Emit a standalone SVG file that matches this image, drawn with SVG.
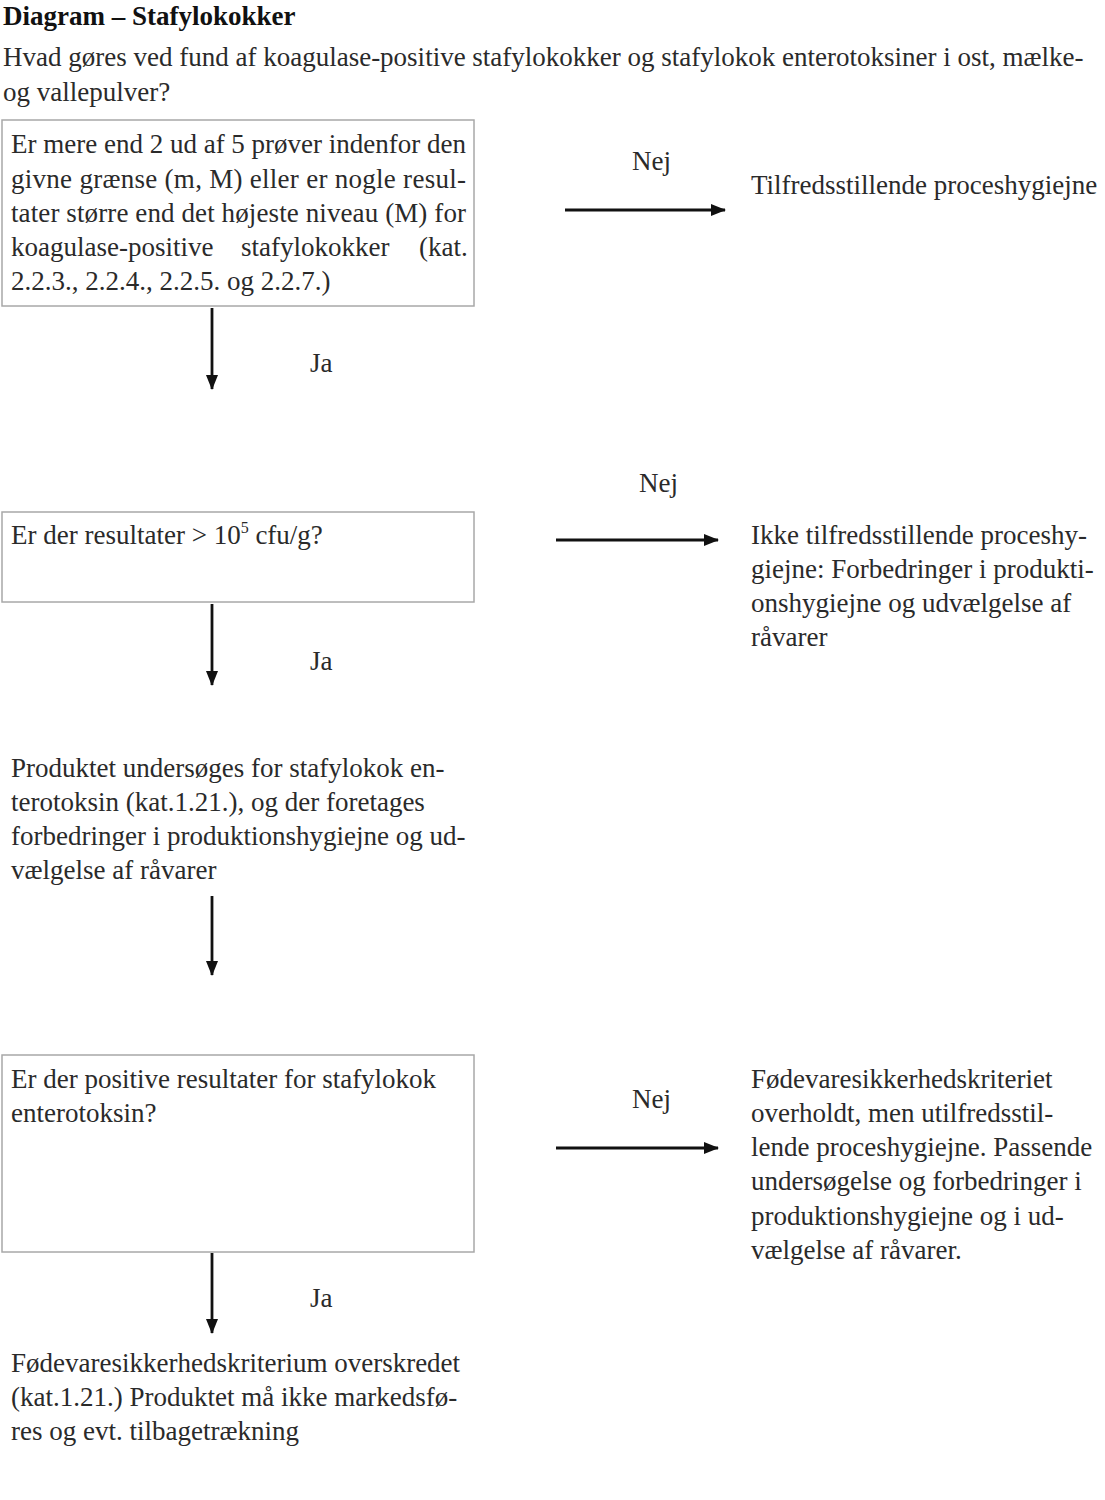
<svg xmlns="http://www.w3.org/2000/svg" width="1105" height="1500" viewBox="0 0 1105 1500">
<style>
text{font-family:"Liberation Serif","Times New Roman",serif;font-size:27px;fill:#2a2a2a}
.t{font-weight:bold;font-size:27px;fill:#111}
.box{fill:#fff;stroke:#a8a8a8;stroke-width:1.5}
.c{stroke:#111;stroke-width:2.8;fill:none}
</style>
<defs>
<marker id="ah" markerUnits="userSpaceOnUse" markerWidth="15" markerHeight="15" viewBox="0 0 15 15" refX="14" refY="7.5" orient="auto">
<path d="M0,1.5 L15,7.5 L0,13.5 Z" fill="#111"/>
</marker>
</defs>
<rect width="1105" height="1500" fill="#fff"/>
<g id="title">
<text class="t" x="3" y="25">Diagram – Stafylokokker</text>
<text x="3" y="66">Hvad gøres ved fund af koagulase-positive stafylokokker og stafylokok enterotoksiner i ost, mælke-</text>
<text x="3" y="101">og vallepulver?</text>
</g>
<g id="q1">
<rect class="box" x="2" y="120" width="472" height="186"/>
<text x="11" y="153" textLength="455" lengthAdjust="spacing">Er mere end 2 ud af 5 prøver indenfor den</text>
<text x="11" y="188" textLength="455" lengthAdjust="spacing">givne grænse (m, M) eller er nogle resul-</text>
<text x="11" y="222" textLength="455" lengthAdjust="spacing">tater større end det højeste niveau (M) for</text>
<text y="256"><tspan x="11">koagulase-positive</tspan><tspan x="241">stafylokokker</tspan><tspan x="419">(kat.</tspan></text>
<text x="11" y="290">2.2.3., 2.2.4., 2.2.5. og 2.2.7.)</text>
</g>
<g id="r1">
<text x="751" y="194">Tilfredsstillende proceshygiejne</text>
</g>
<g id="q2">
<rect class="box" x="2" y="512" width="472" height="90"/>
<text x="11" y="544">Er der resultater &gt; 10<tspan font-size="16" dy="-11">5</tspan><tspan dy="11"> cfu/g?</tspan></text>
</g>
<g id="r2">
<text x="751" y="544">Ikke tilfredsstillende proceshy-</text>
<text x="751" y="578">giejne: Forbedringer i produkti-</text>
<text x="751" y="612">onshygiejne og udvælgelse af</text>
<text x="751" y="646">råvarer</text>
</g>
<g id="s3">
<text x="11" y="777">Produktet undersøges for stafylokok en-</text>
<text x="11" y="811">terotoksin (kat.1.21.), og der foretages</text>
<text x="11" y="845">forbedringer i produktionshygiejne og ud-</text>
<text x="11" y="879">vælgelse af råvarer</text>
</g>
<g id="q4">
<rect class="box" x="2" y="1055" width="472" height="197"/>
<text x="11" y="1088">Er der positive resultater for stafylokok</text>
<text x="11" y="1122">enterotoksin?</text>
</g>
<g id="r4">
<text x="751" y="1088">Fødevaresikkerhedskriteriet</text>
<text x="751" y="1122">overholdt, men utilfredsstil-</text>
<text x="751" y="1156">lende proceshygiejne. Passende</text>
<text x="751" y="1190">undersøgelse og forbedringer i</text>
<text x="751" y="1225">produktionshygiejne og i ud-</text>
<text x="751" y="1259">vælgelse af råvarer.</text>
</g>
<g id="r5">
<text x="11" y="1372">Fødevaresikkerhedskriterium overskredet</text>
<text x="11" y="1406">(kat.1.21.) Produktet må ikke markedsfø-</text>
<text x="11" y="1440">res og evt. tilbagetrækning</text>
</g>
<g id="connectors">
<line class="c" x1="565" y1="210" x2="725" y2="210" marker-end="url(#ah)"/>
<text x="632" y="170">Nej</text>
<line class="c" x1="212" y1="308" x2="212" y2="389" marker-end="url(#ah)"/>
<text x="310" y="372">Ja</text>
<line class="c" x1="556" y1="540" x2="718" y2="540" marker-end="url(#ah)"/>
<text x="639" y="492">Nej</text>
<line class="c" x1="212" y1="604" x2="212" y2="685" marker-end="url(#ah)"/>
<text x="310" y="670">Ja</text>
<line class="c" x1="212" y1="896" x2="212" y2="975" marker-end="url(#ah)"/>
<line class="c" x1="556" y1="1148" x2="718" y2="1148" marker-end="url(#ah)"/>
<text x="632" y="1108">Nej</text>
<line class="c" x1="212" y1="1253" x2="212" y2="1333" marker-end="url(#ah)"/>
<text x="310" y="1307">Ja</text>
</g>
</svg>
